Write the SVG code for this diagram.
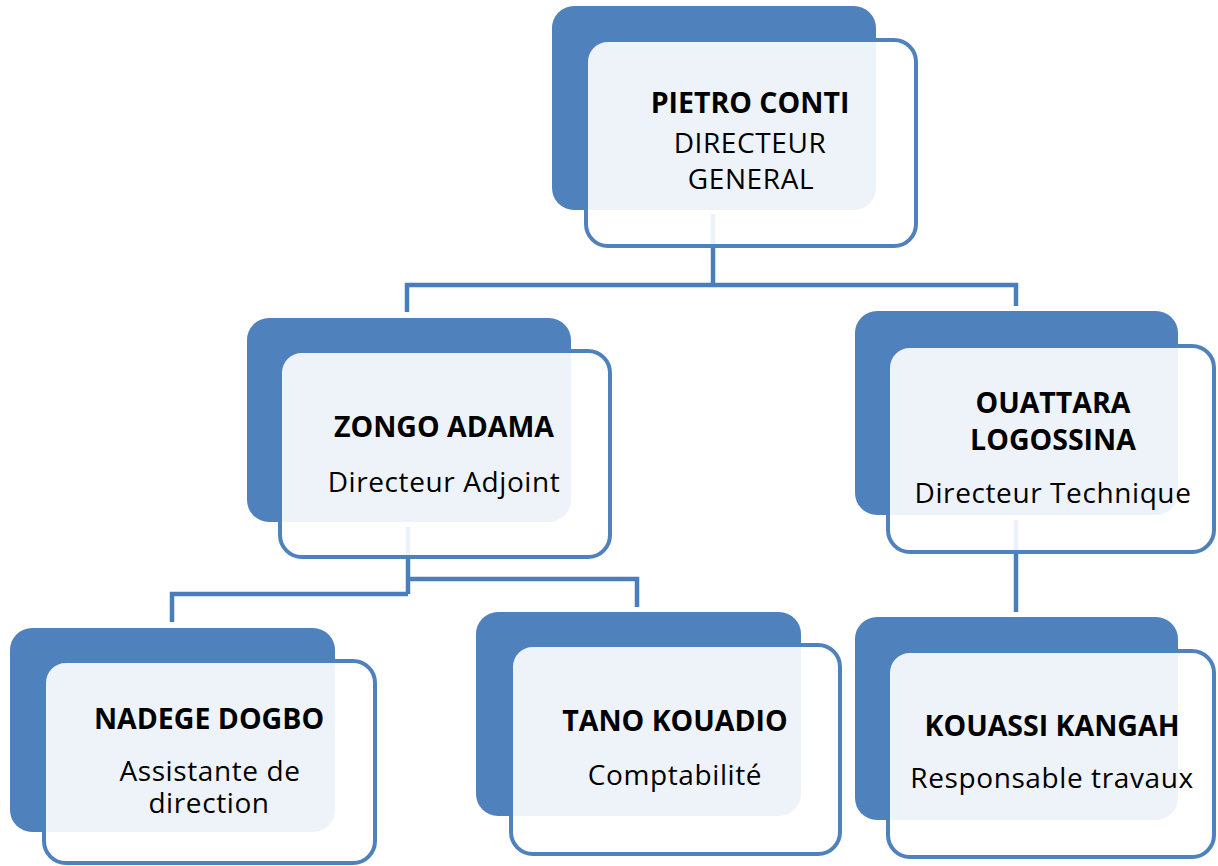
<svg xmlns="http://www.w3.org/2000/svg" width="1218" height="866" viewBox="0 0 1218 866">
<style>
.back{fill:#4F81BD;}
.front{fill:#FFFFFF;fill-opacity:0.9;stroke:#4F81BD;stroke-width:4;}
.conn{fill:none;stroke:#4A7EBB;stroke-width:4.5;stroke-linejoin:miter;}
text{font-family:"Open Sans","Liberation Sans",sans-serif;fill:#000;text-anchor:middle;font-size:28px;letter-spacing:0.6px;}
.b{font-weight:bold;font-size:28.5px;letter-spacing:0;}
</style>
<rect width="1218" height="866" fill="#FFFFFF"/>
<g id="connectors">
<path class="conn" d="M713,214 V285 M407,312 V285 H1016 V306"/>
<path class="conn" d="M408,527 V594 M172,622 V594 H408 M408,579 H637 V607"/>
<path class="conn" d="M1016,520 V612"/>
</g>
<g id="node-pietro">
<rect class="back" x="552" y="6" width="324" height="204" rx="22"/>
<rect class="front" x="586" y="40" width="330" height="206" rx="22"/>
<text class="b" x="750" y="113">PIETRO CONTI</text>
<text x="750" y="153">DIRECTEUR<tspan x="751" y="189">GENERAL</tspan></text>
</g>
<g id="node-zongo">
<rect class="back" x="247" y="318" width="324" height="204" rx="22"/>
<rect class="front" x="280" y="351" width="330" height="206" rx="22"/>
<text class="b" x="444" y="437">ZONGO ADAMA</text>
<text x="444" y="492">Directeur Adjoint</text>
</g>
<g id="node-ouattara">
<rect class="back" x="855" y="311" width="323" height="204" rx="22"/>
<rect class="front" x="888" y="346" width="326" height="206" rx="22"/>
<text class="b" x="1053" y="413">OUATTARA<tspan x="1053" y="450">LOGOSSINA</tspan></text>
<text x="1053" y="503">Directeur Technique</text>
</g>
<g id="node-nadege">
<rect class="back" x="10" y="628" width="325" height="204" rx="22"/>
<rect class="front" x="44" y="661" width="331" height="202" rx="22"/>
<text class="b" x="209" y="729">NADEGE DOGBO</text>
<text x="210" y="781">Assistante de<tspan x="209" y="813">direction</tspan></text>
</g>
<g id="node-tano">
<rect class="back" x="476" y="612" width="325" height="204" rx="22"/>
<rect class="front" x="511" y="645" width="329" height="209" rx="22"/>
<text class="b" x="675" y="731">TANO KOUADIO</text>
<text x="675" y="785">Comptabilité</text>
</g>
<g id="node-kouassi">
<rect class="back" x="855" y="617" width="323" height="203" rx="22"/>
<rect class="front" x="888" y="651" width="326" height="206" rx="22"/>
<text class="b" x="1052" y="736">KOUASSI KANGAH</text>
<text x="1052" y="788">Responsable travaux</text>
</g>
</svg>
